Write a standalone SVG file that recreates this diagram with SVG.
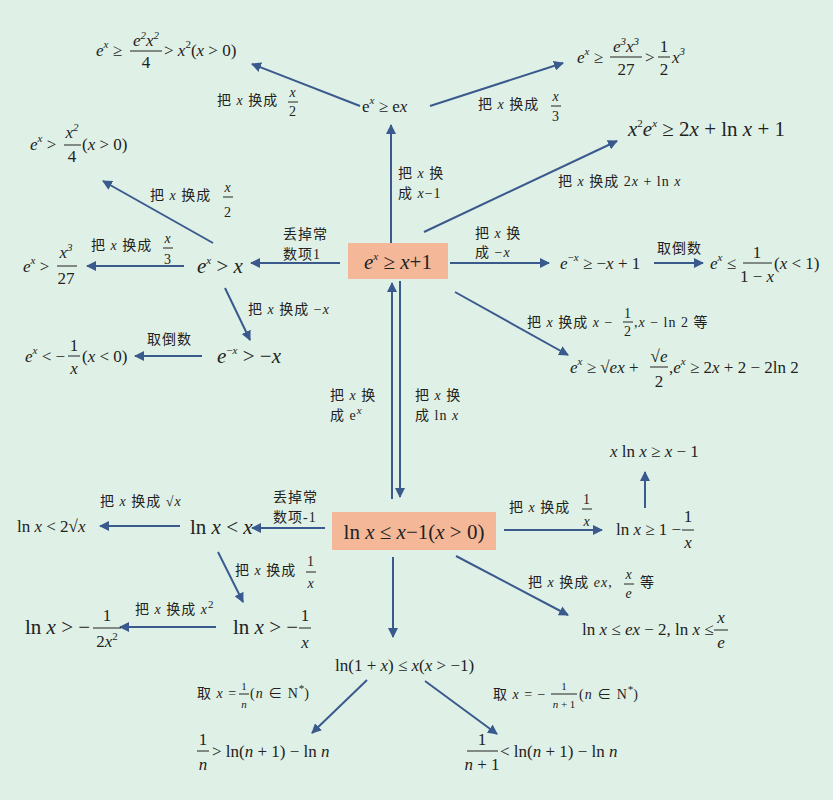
<svg xmlns="http://www.w3.org/2000/svg" width="833" height="800" viewBox="0 0 833 800">
<defs>
<marker id="ah" viewBox="0 0 10 10" refX="9" refY="5" markerWidth="5" markerHeight="5" orient="auto"><path d="M0,0 L10,5 L0,10 z" fill="#3a5a8e"/></marker>
<style>
text{font-family:"Liberation Serif","Noto Sans CJK SC",serif;fill:#222}
.f{font-size:17px}
.b{font-size:21px}
.l{font-size:14px;letter-spacing:1px}
.s{font-size:11px;letter-spacing:0}
.m{text-anchor:middle}
.i{font-style:italic}
.fb{stroke:#222;stroke-width:1}
#conn line{stroke:#3a5a8e;stroke-width:2;marker-end:url(#ah)}
</style>
</defs>
<rect width="833" height="800" fill="#dff1e6"/>

<g id="conn">
<line x1="360" y1="106" x2="252" y2="64"/>
<line x1="430" y1="106" x2="563" y2="63"/>
<line x1="391" y1="243" x2="391" y2="125"/>
<line x1="424" y1="232" x2="617" y2="141"/>
<line x1="450" y1="263" x2="549" y2="263"/>
<line x1="654" y1="263" x2="703" y2="263"/>
<line x1="455" y1="292" x2="568" y2="355"/>
<line x1="340" y1="263" x2="251" y2="263"/>
<line x1="213" y1="243" x2="103" y2="181"/>
<line x1="184" y1="266" x2="87" y2="266"/>
<line x1="225" y1="288" x2="250" y2="340"/>
<line x1="202" y1="356" x2="135" y2="356"/>
<line x1="400" y1="281" x2="400" y2="497"/>
<line x1="392" y1="499" x2="392" y2="283"/>
<line x1="504" y1="530" x2="602" y2="530"/>
<line x1="645" y1="508" x2="645" y2="472"/>
<line x1="456" y1="556" x2="568" y2="615"/>
<line x1="325" y1="528" x2="252" y2="528"/>
<line x1="180" y1="526" x2="100" y2="526"/>
<line x1="218" y1="552" x2="243" y2="602"/>
<line x1="216" y1="627" x2="120" y2="627"/>
<line x1="393" y1="557" x2="393" y2="637"/>
<line x1="367" y1="680" x2="312" y2="733"/>
<line x1="425" y1="681" x2="497" y2="734"/>
</g>

<g id="box1"><rect x="348" y="243" width="100" height="36" fill="#f4b898"/>
<text class="b" x="398" y="269" text-anchor="middle"><tspan class="i">e</tspan><tspan class="s i" dy="-9">x</tspan><tspan dy="9"> ≥ </tspan><tspan class="i">x</tspan>+1</text></g>

<g id="box2"><rect x="332" y="512" width="164" height="38" fill="#f4b898"/>
<text class="b" x="414" y="539" text-anchor="middle">ln <tspan class="i">x</tspan> ≤ <tspan class="i">x</tspan>−1(<tspan class="i">x</tspan> &gt; 0)</text></g>

<g id="n_ex"><text class="f" x="362" y="112">e<tspan class="s i" dy="-8">x</tspan><tspan dy="8"> ≥ e</tspan><tspan class="i">x</tspan></text></g>

<g id="n_tl"><text class="f" x="96" y="56"><tspan class="i">e</tspan><tspan class="s i" dy="-8">x</tspan><tspan dy="8"> ≥</tspan></text>
<text class="f m i" x="146" y="46">e<tspan class="s" dy="-7">2</tspan><tspan dy="7">x</tspan><tspan class="s" dy="-7">2</tspan></text>
<line class="fb" x1="130" y1="51" x2="162" y2="51"/><text class="f m" x="146" y="68">4</text>
<text class="f" x="164" y="56">&gt; <tspan class="i">x</tspan><tspan class="s" dy="-8">2</tspan><tspan dy="8">(</tspan><tspan class="i">x</tspan> &gt; 0)</text></g>

<g id="n_tr"><text class="f" x="577" y="63"><tspan class="i">e</tspan><tspan class="s i" dy="-8">x</tspan><tspan dy="8"> ≥</tspan></text>
<text class="f m i" x="626" y="52">e<tspan class="s" dy="-7">3</tspan><tspan dy="7">x</tspan><tspan class="s" dy="-7">3</tspan></text>
<line class="fb" x1="610" y1="57" x2="642" y2="57"/><text class="f m" x="626" y="75">27</text>
<text class="f" x="645" y="63">&gt;</text>
<text class="f m" x="664" y="52">1</text><line class="fb" x1="658" y1="57" x2="670" y2="57"/><text class="f m" x="664" y="75">2</text>
<text class="f i" x="672" y="63">x<tspan class="s" dy="-8">3</tspan></text></g>

<g id="n_x2ex"><text class="b" x="628" y="136"><tspan class="i">x</tspan><tspan class="s" dy="-9">2</tspan><tspan class="i" dy="9">e</tspan><tspan class="s i" dy="-9">x</tspan><tspan dy="9"> ≥ 2</tspan><tspan class="i">x</tspan> + ln <tspan class="i">x</tspan> + 1</text></g>

<g id="n_x24"><text class="f" x="30" y="150"><tspan class="i">e</tspan><tspan class="s i" dy="-8">x</tspan><tspan dy="8"> &gt;</tspan></text>
<text class="f m i" x="72" y="138">x<tspan class="s" dy="-7">2</tspan></text><line class="fb" x1="64" y1="145" x2="81" y2="145"/><text class="f m" x="72" y="162">4</text>
<text class="f" x="82" y="150">(<tspan class="i">x</tspan> &gt; 0)</text></g>

<g id="n_exgx"><text class="b" x="197" y="273"><tspan class="i">e</tspan><tspan class="s i" dy="-9">x</tspan><tspan dy="9"> &gt; </tspan><tspan class="i">x</tspan></text></g>

<g id="n_x327"><text class="f" x="23" y="272"><tspan class="i">e</tspan><tspan class="s i" dy="-8">x</tspan><tspan dy="8"> &gt;</tspan></text>
<text class="f m i" x="66" y="258">x<tspan class="s" dy="-7">3</tspan></text><line class="fb" x1="57" y1="266" x2="77" y2="266"/><text class="f m" x="66" y="284">27</text></g>

<g id="n_emx"><text class="b" x="217" y="363"><tspan class="i">e</tspan><tspan class="s" dy="-9">−</tspan><tspan class="s i">x</tspan><tspan dy="9"> &gt; −</tspan><tspan class="i">x</tspan></text></g>

<g id="n_ltm1x"><text class="f" x="25" y="362"><tspan class="i">e</tspan><tspan class="s i" dy="-8">x</tspan><tspan dy="8"> &lt; −</tspan></text>
<text class="f m" x="74" y="351">1</text><line class="fb" x1="68" y1="356" x2="80" y2="356"/><text class="f m i" x="74" y="374">x</text>
<text class="f" x="82" y="362">(<tspan class="i">x</tspan> &lt; 0)</text></g>

<g id="n_emx1"><text class="f" x="560" y="269"><tspan class="i">e</tspan><tspan class="s" dy="-8">−</tspan><tspan class="s i">x</tspan><tspan dy="8"> ≥ −</tspan><tspan class="i">x</tspan> + 1</text></g>

<g id="n_inv"><text class="f" x="710" y="269"><tspan class="i">e</tspan><tspan class="s i" dy="-8">x</tspan><tspan dy="8"> ≤</tspan></text>
<text class="f m" x="757" y="258">1</text><line class="fb" x1="743" y1="263" x2="772" y2="263"/><text class="f m" x="757" y="282">1 − <tspan class="i">x</tspan></text>
<text class="f" x="774" y="269">(<tspan class="i">x</tspan> &lt; 1)</text></g>

<g id="n_sqrt"><text class="f" x="570" y="373"><tspan class="i">e</tspan><tspan class="s i" dy="-8">x</tspan><tspan dy="8"> ≥ √</tspan><tspan class="i">ex</tspan> +</text>
<text class="f m" x="659" y="362">√<tspan class="i">e</tspan></text><line class="fb" x1="650" y1="367" x2="668" y2="367"/><text class="f m" x="659" y="387">2</text>
<text class="f" x="669" y="373">,<tspan class="i">e</tspan><tspan class="s i" dy="-8">x</tspan><tspan dy="8"> ≥ 2</tspan><tspan class="i">x</tspan> + 2 − 2ln 2</text></g>

<g id="n_xlnx"><text class="f" x="610" y="457"><tspan class="i">x</tspan> ln <tspan class="i">x</tspan> ≥ <tspan class="i">x</tspan> − 1</text></g>

<g id="n_ln1"><text class="f" x="616" y="535">ln <tspan class="i">x</tspan> ≥ 1 −</text>
<text class="f m" x="688" y="522">1</text><line class="fb" x1="682" y1="530" x2="694" y2="530"/><text class="f m i" x="688" y="548">x</text></g>

<g id="n_lnex"><text class="f" x="582" y="635">ln <tspan class="i">x</tspan> ≤ <tspan class="i">ex</tspan> − 2, ln <tspan class="i">x</tspan> ≤</text>
<text class="f m i" x="721" y="623">x</text><line class="fb" x1="714" y1="630" x2="728" y2="630"/><text class="f m i" x="721" y="648">e</text></g>

<g id="n_lnltx"><text class="b" x="190" y="534">ln <tspan class="i">x</tspan> &lt; <tspan class="i">x</tspan></text></g>
<g id="n_sqx"><text class="f" x="17" y="532">ln <tspan class="i">x</tspan> &lt; 2√<tspan class="i">x</tspan></text></g>

<g id="n_lngtm"><text class="b" x="233" y="634">ln <tspan class="i">x</tspan> &gt; −</text>
<text class="f m" x="305" y="621">1</text><line class="fb" x1="299" y1="628" x2="311" y2="628"/><text class="f m i" x="305" y="648">x</text></g>

<g id="n_lngt2"><text class="b" x="25" y="634">ln <tspan class="i">x</tspan> &gt; −</text>
<text class="f m" x="107" y="621">1</text><line class="fb" x1="93" y1="628" x2="121" y2="628"/><text class="f m" x="107" y="647">2<tspan class="i">x</tspan><tspan class="s" dy="-7">2</tspan></text></g>

<g id="n_ln1x"><text class="f" x="335" y="671">ln(1 + <tspan class="i">x</tspan>) ≤ <tspan class="i">x</tspan>(<tspan class="i">x</tspan> &gt; −1)</text></g>

<g id="n_1n"><text class="f m" x="203" y="745">1</text><line class="fb" x1="197" y1="751" x2="209" y2="751"/><text class="f m i" x="203" y="770">n</text>
<text class="f" x="212" y="757">&gt; ln(<tspan class="i">n</tspan> + 1) − ln <tspan class="i">n</tspan></text></g>

<g id="n_1n1"><text class="f m" x="482" y="745">1</text><line class="fb" x1="467" y1="751" x2="498" y2="751"/><text class="f m" x="482" y="770"><tspan class="i">n</tspan> + 1</text>
<text class="f" x="500" y="757">&lt; ln(<tspan class="i">n</tspan> + 1) − ln <tspan class="i">n</tspan></text></g>

<g id="labels">
<text class="l" x="217" y="105">把 <tspan class="i">x</tspan> 换成</text><text class="l m i" x="293" y="97">x</text><line class="fb" x1="288" y1="102" x2="298" y2="102"/><text class="l m" x="293" y="116">2</text>
<text class="l" x="478" y="109">把 <tspan class="i">x</tspan> 换成</text><text class="l m i" x="556" y="101">x</text><line class="fb" x1="551" y1="106" x2="561" y2="106"/><text class="l m" x="556" y="121">3</text>
<text class="l" x="398" y="178">把 <tspan class="i">x</tspan> 换</text><text class="l" x="398" y="198">成 <tspan class="i">x</tspan>−1</text>
<text class="l" x="558" y="186">把 <tspan class="i">x</tspan> 换成 2<tspan class="i">x</tspan> + ln <tspan class="i">x</tspan></text>
<text class="l" x="475" y="238">把 <tspan class="i">x</tspan> 换</text><text class="l" x="475" y="257">成  −<tspan class="i">x</tspan></text>
<text class="l" x="657" y="253">取倒数</text>
<text class="l" x="527" y="327">把 <tspan class="i">x</tspan> 换成 <tspan class="i">x</tspan> −</text><text class="l m" x="628" y="318">1</text><line class="fb" x1="623" y1="322" x2="633" y2="322"/><text class="l m" x="628" y="336">2</text><text class="l" x="634" y="327">,<tspan class="i">x</tspan> − ln 2 等</text>
<text class="l" x="283" y="239">丢掉常</text><text class="l" x="283" y="259">数项1</text>
<text class="l" x="150" y="200">把 <tspan class="i">x</tspan> 换成</text><text class="l m i" x="228" y="192">x</text><line class="fb" x1="223" y1="197" x2="233" y2="197"/><text class="l m" x="228" y="217">2</text>
<text class="l" x="91" y="250">把 <tspan class="i">x</tspan> 换成</text><text class="l m i" x="168" y="243">x</text><line class="fb" x1="163" y1="248" x2="173" y2="248"/><text class="l m" x="168" y="264">3</text>
<text class="l" x="248" y="314">把 <tspan class="i">x</tspan> 换成 −<tspan class="i">x</tspan></text>
<text class="l" x="147" y="344">取倒数</text>
<text class="l" x="330" y="400">把 <tspan class="i">x</tspan> 换</text><text class="l" x="330" y="420">成 e<tspan class="s i" dy="-6">x</tspan></text>
<text class="l" x="415" y="400">把 <tspan class="i">x</tspan> 换</text><text class="l" x="415" y="420">成 ln <tspan class="i">x</tspan></text>
<text class="l" x="100" y="506">把 <tspan class="i">x</tspan> 换成 √<tspan class="i">x</tspan></text>
<text class="l" x="273" y="502">丢掉常</text><text class="l" x="273" y="522">数项-1</text>
<text class="l" x="235" y="575">把 <tspan class="i">x</tspan> 换成</text><text class="l m" x="311" y="566">1</text><line class="fb" x1="306" y1="572" x2="316" y2="572"/><text class="l m i" x="311" y="588">x</text>
<text class="l" x="135" y="614">把 <tspan class="i">x</tspan> 换成 <tspan class="i">x</tspan><tspan class="s" dy="-6">2</tspan></text>
<text class="l" x="197" y="698">取 <tspan class="i">x</tspan> =</text><text class="s m" x="244" y="690">1</text><line class="fb" x1="239" y1="694" x2="249" y2="694"/><text class="s m i" x="244" y="708">n</text><text class="l" x="250" y="698">(<tspan class="i">n</tspan> ∈ N<tspan class="s" dy="-6">*</tspan><tspan dy="6">)</tspan></text>
<text class="l" x="509" y="512">把 <tspan class="i">x</tspan> 换成</text><text class="l m" x="587" y="504">1</text><line class="fb" x1="582" y1="509" x2="592" y2="509"/><text class="l m i" x="587" y="526">x</text>
<text class="l" x="528" y="587">把 <tspan class="i">x</tspan> 换成  <tspan class="i">ex</tspan>,</text><text class="l m i" x="629" y="579">x</text><line class="fb" x1="624" y1="584" x2="634" y2="584"/><text class="l m i" x="629" y="598">e</text><text class="l" x="640" y="587">等</text>
<text class="l" x="493" y="699">取 <tspan class="i">x</tspan> = −</text><text class="s m" x="564" y="690">1</text><line class="fb" x1="551" y1="694" x2="577" y2="694"/><text class="s m" x="564" y="708"><tspan class="i">n</tspan> + 1</text><text class="l" x="579" y="699">(<tspan class="i">n</tspan> ∈ N<tspan class="s" dy="-6">*</tspan><tspan dy="6">)</tspan></text>
</g>
</svg>
